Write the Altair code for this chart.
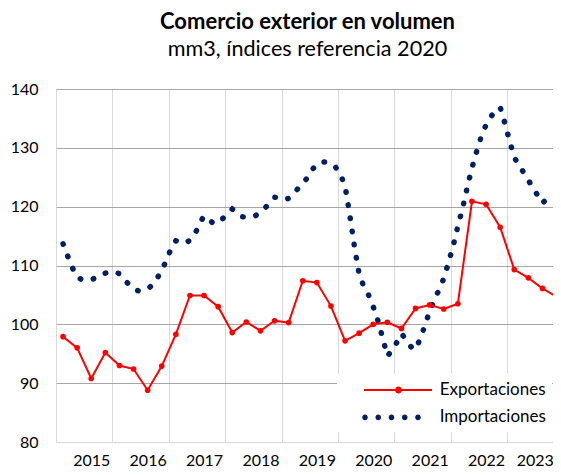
import altair as alt
import pandas as pd

# ---- data ----
export_start = 1          # quarterly series, one value every 3 months
export_step = 3
exportaciones = [97.9, 96.0, 90.8, 95.2, 93.0, 92.4, 88.8, 92.9, 98.3,
                 104.9, 104.9, 103.0, 98.6, 100.4, 98.9, 100.6, 100.3, 107.4,
                 107.1, 103.1, 97.2, 98.5, 100.0, 100.35, 99.3, 102.7, 103.3,
                 102.6, 103.5, 120.9, 120.4, 116.5, 109.3, 107.9, 106.1, 104.7]

import_start = 1          # monthly series
importaciones = [113.7, 111.6, 109.6, 108.0, 107.6, 107.6, 107.6, 107.9, 108.3, 108.7,
                 108.9, 108.9, 108.6, 107.6, 106.8, 106.0, 105.7, 105.8, 106.0, 106.7,
                 107.8, 109.2, 110.9, 112.9, 114.2, 114.0, 113.8, 114.3, 115.2, 117.1,
                 118.4, 117.9, 117.1, 117.4, 118.0, 118.8, 119.6, 119.0, 118.3, 118.2,
                 118.3, 118.5, 119.1, 119.8, 120.7, 121.6, 121.5, 121.2, 121.4, 122.2,
                 123.1, 124.0, 124.9, 126.3, 127.2, 127.6, 127.6, 127.2, 126.7, 125.5,
                 123.5, 118.6, 113.2, 108.5, 106.4, 105.0, 103.0, 100.6, 97.7, 94.6,
                 95.6, 96.9, 98.4, 97.4, 96.2, 95.7, 97.6, 99.8, 102.3, 104.1,
                 105.9, 107.8, 110.5, 113.3, 116.7, 119.7, 123.3, 126.6, 129.4, 132.0,
                 133.9, 135.3, 136.2, 136.9, 134.2, 131.2, 128.4, 127.0, 125.8, 124.5,
                 123.1, 121.9, 120.6, 121.4, 122.4]

years = [2015, 2016, 2017, 2018, 2019, 2020, 2021, 2022, 2023]
series_names = ["Exportaciones", "Importaciones"]
y_ticks = [80, 90, 100, 110, 120, 130, 140]

exp_df = pd.DataFrame({
    "m": [export_start + export_step * k for k in range(len(exportaciones))],
    "v": exportaciones,
    "serie": "Exportaciones",
})
imp_df = pd.DataFrame({
    "m": [import_start + k for k in range(len(importaciones))],
    "v": importaciones,
    "serie": "Importaciones",
})

RED = "#FF0000"
NAVY = "#002060"
FONT = "Lato"

year_bounds = [-0.5 + 12 * k for k in range(len(years))]
last_bound = year_bounds[-1]

x_enc = alt.X(
    "m:Q",
    scale=alt.Scale(domain=[-0.5, 105.24], nice=False, zero=False),
    axis=alt.Axis(
        values=year_bounds, title=None, grid=True, gridColor="#d9d9d9",
        ticks=False, domain=True, domainColor="#d9d9d9",
        labelExpr="toString(2015 + round((datum.value + 0.5) / 12))",
        labelOffset={"condition": {"test": f"datum.value >= {last_bound}", "value": 27.5},
                     "value": 35.25},
        labelPadding=10, labelFlush=False, labelOverlap=False,
        labelFont=FONT, labelFontSize=16, labelColor="black",
    ),
)
y_enc = alt.Y(
    "v:Q",
    scale=alt.Scale(domain=[80, 140], nice=False, zero=False),
    axis=alt.Axis(
        values=y_ticks, title=None, grid=True,
        gridColor={"condition": {"test": "datum.value === 80", "value": "#d9d9d9"},
                   "value": "#a6a6a6"},
        ticks=False, domain=False, labelPadding=18,
        labelFont=FONT, labelFontSize=16, labelColor="black",
    ),
)

imp_line = alt.Chart(imp_df).mark_line(
    color=NAVY, strokeWidth=5.5, strokeCap="round", strokeDash=[0.5, 12.8]
).encode(x=x_enc, y=y_enc)

exp_line = alt.Chart(exp_df).mark_line(color=RED, strokeWidth=2).encode(x=x_enc, y=y_enc)
exp_pts = alt.Chart(exp_df).mark_point(
    filled=True, color=RED, size=32, opacity=1
).encode(x=x_enc, y=y_enc)


def circle(cx, cy, r):
    return (f"M{cx + r},{cy}A{r},{r},0,1,1,{cx - r},{cy}"
            f"A{r},{r},0,1,1,{cx + r},{cy}Z")


exp_symbol = "M-3.4,-0.1H3.4V0.1H-3.4Z " + circle(0.05, 0, 0.35)
imp_symbol = " ".join(circle(c, 0, 0.28) for c in [-3.3, -1.975, -0.65, 0.675, 2.0])

legend = alt.Legend(
    title=None, orient="none", legendX=281, legendY=285, fillColor="white",
    padding=6, symbolSize=400, symbolStrokeWidth=0, symbolOffset=45,
    labelOffset=31.7, rowPadding=9.4, labelFont=FONT, labelFontSize=17,
    labelColor="black", labelExpr="datum.label + '\u00a0\u00a0\u00a0\u00a0'",
)
legend_layer = alt.Chart(exp_df).mark_point(
    filled=True, size=400, opacity=1
).encode(
    x=x_enc, y=y_enc,
    color=alt.Color("serie:N", scale=alt.Scale(domain=series_names, range=[RED, NAVY]),
                    legend=legend),
    shape=alt.Shape("serie:N", scale=alt.Scale(domain=series_names,
                                               range=[exp_symbol, imp_symbol]),
                    legend=legend),
).transform_filter("false")

chart = alt.layer(imp_line, exp_line, exp_pts, legend_layer).properties(
    width=497, height=353,
    padding={"left": 48, "top": 81, "right": 0, "bottom": 25},
    autosize=alt.AutoSizeParams(type="none"),
    title=alt.TitleParams(
        text="Comercio exterior en volumen",
        subtitle="mm3, índices referencia 2020",
        font=FONT, fontSize=22, fontWeight="bold", color="black",
        subtitleFont=FONT, subtitleFontSize=21.6, subtitleColor="black",
        anchor="middle", dx=3, offset=19, subtitlePadding=5,
    ),
).configure_view(stroke=None).configure(background="white")

chart.save("out.html", embed_options={"renderer": "svg", "actions": False})
